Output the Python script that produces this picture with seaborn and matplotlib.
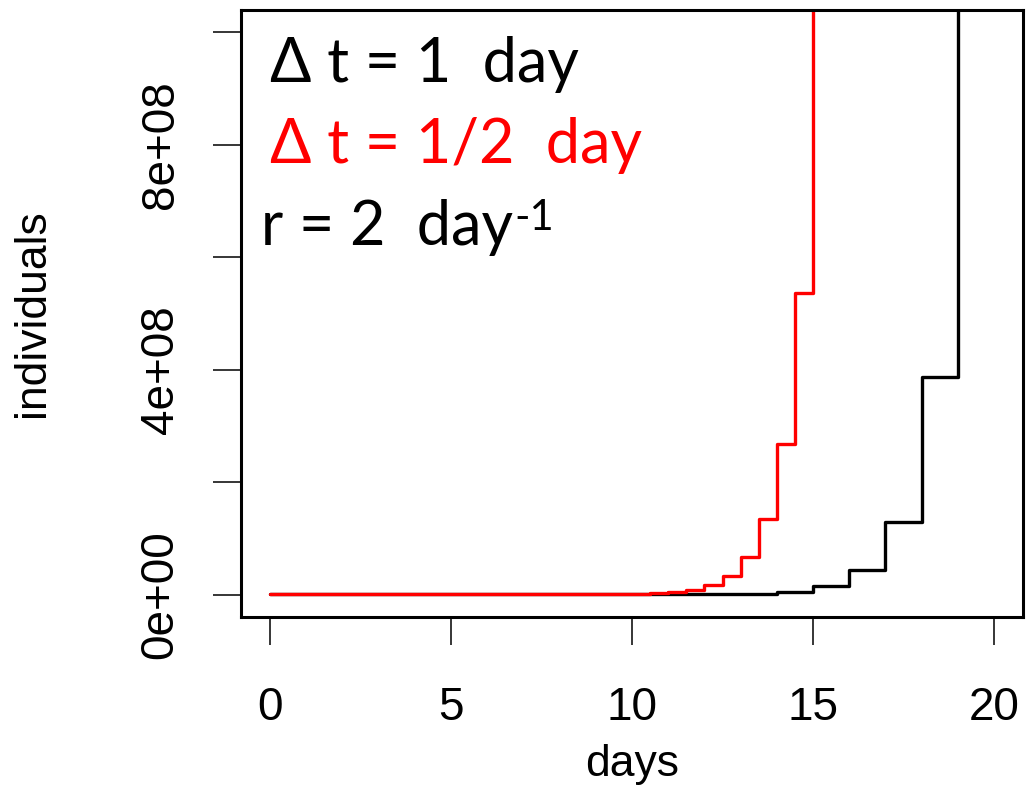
import matplotlib
matplotlib.use("Agg")
import matplotlib.pyplot as plt
import seaborn as sns
import pandas as pd

# ---- data ----
days_dt1 = [0, 1, 2, 3, 4, 5, 6, 7, 8, 9, 10, 11, 12, 13, 14, 15, 16, 17, 18, 19, 20]
indiv_dt1 = [1, 3, 9, 27, 81, 243, 729, 2187, 6561, 19683, 59049, 177147, 531441,
             1594323, 4782969, 14348907, 43046721, 129140163, 387420489,
             1162261467, 3486784401]

days_dt05 = [0, 0.5, 1, 1.5, 2, 2.5, 3, 3.5, 4, 4.5, 5, 5.5, 6, 6.5, 7, 7.5, 8, 8.5,
             9, 9.5, 10, 10.5, 11, 11.5, 12, 12.5, 13, 13.5, 14, 14.5, 15, 15.5, 16]
indiv_dt05 = [1, 2, 4, 8, 16, 32, 64, 128, 256, 512, 1024, 2048, 4096, 8192, 16384,
              32768, 65536, 131072, 262144, 524288, 1048576, 2097152, 4194304,
              8388608, 16777216, 33554432, 67108864, 134217728, 268435456,
              536870912, 1073741824, 2147483648, 4294967296]

x_ticks = [0, 5, 10, 15, 20]
x_tick_labels = ["0", "5", "10", "15", "20"]
y_ticks = [0, 2e8, 4e8, 6e8, 8e8, 1e9]
y_tick_labels = ["0e+00", "", "4e+08", "", "8e+08", ""]

sns.set_theme(style="white")
plt.rcParams["font.family"] = ["Liberation Sans", "DejaVu Sans"]
plt.rcParams["text.color"] = "black"
plt.rcParams["axes.labelcolor"] = "black"
plt.rcParams["xtick.color"] = "black"
plt.rcParams["ytick.color"] = "black"

fig = plt.figure(figsize=(10.32, 7.89), dpi=100)
ax = fig.add_axes([241 / 1032, 1 - 617 / 789, (1023 - 241) / 1032, (617 - 9.5) / 789])

df1 = pd.DataFrame({"days": days_dt1, "individuals": indiv_dt1})
df2 = pd.DataFrame({"days": days_dt05, "individuals": indiv_dt05})

sns.lineplot(data=df1, x="days", y="individuals", ax=ax, color="black",
             drawstyle="steps-post", linewidth=2.4, estimator=None)
sns.lineplot(data=df2, x="days", y="individuals", ax=ax, color="#FF0000",
             drawstyle="steps-post", linewidth=2.4, estimator=None)

ax.set_xlim(-0.8, 20.8)
ax.set_ylim(-4e7, 1.04e9)

ax.set_xticks(x_ticks)
ax.set_xticklabels(x_tick_labels, fontsize=33, color="black")
ax.set_yticks(y_ticks)
ax.set_yticklabels(y_tick_labels, fontsize=33, rotation=90, va="center", color="black")

ax.tick_params(axis="both", direction="out", length=20, width=1.1, color="black",
               labelcolor="black", bottom=True, left=True)
ax.tick_params(axis="x", pad=30)
ax.tick_params(axis="y", pad=22)

for s in ax.spines.values():
    s.set_visible(True)
    s.set_color("black")
    s.set_linewidth(2.2)

ax.set_xlabel("days", fontsize=32, labelpad=10, color="black")
ax.set_ylabel("individuals", fontsize=32, labelpad=62, color="black")

afont = ["Lato", "DejaVu Sans"]
ax.text(0.037, 0.881, "Δ t = 1  day", transform=ax.transAxes, fontsize=44,
        family=afont, color="black", va="baseline", ha="left")
ax.text(0.037, 0.747, "Δ t = 1/2  day", transform=ax.transAxes, fontsize=44,
        family=afont, color="#FF0000", va="baseline", ha="left")
t3 = ax.text(0.0256, 0.612, "r = 2  day", transform=ax.transAxes, fontsize=44,
             family=afont, color="black", va="baseline", ha="left")
ax.annotate("-1", xy=(1, 1), xycoords=t3, xytext=(1, 0), textcoords="offset points",
            fontsize=30, family=afont, color="black", va="top", ha="left")

fig.savefig("out.png", dpi=100)
